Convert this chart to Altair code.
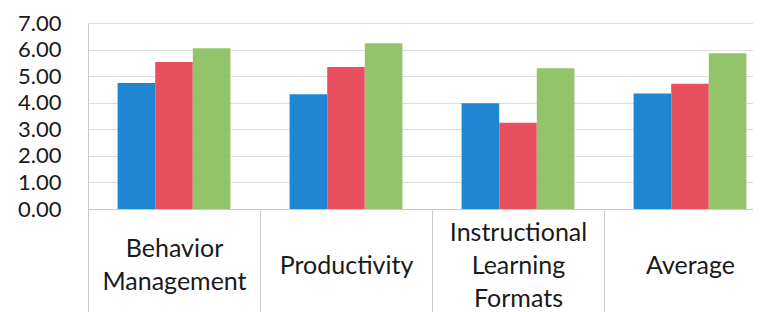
import altair as alt
import pandas as pd

categories = ["Behavior Management", "Productivity", "Instructional Learning Formats", "Average"]
series = ["Series 1", "Series 2", "Series 3"]
series1 = [4.74, 4.32, 3.98, 4.35]
series2 = [5.53, 5.34, 3.25, 4.71]
series3 = [6.05, 6.24, 5.30, 5.86]
colors = ["#1f86d4", "#e8505f", "#93c46a"]
y_ticks = [0, 1, 2, 3, 4, 5, 6, 7]

rows = []
for s, vals in zip(series, [series1, series2, series3]):
    for c, v in zip(categories, vals):
        rows.append({"category": c, "series": s, "value": v})
df = pd.DataFrame(rows)

# Multi-line labels, vertically centred on a common line: half-height blank
# (zero-width space) lines are used so 1-, 2- and 3-line labels share a centre.
BLANK = "\u200b"
max_lines = max(len(c.split(" ")) for c in categories)
parts = []
for c in categories:
    words = c.split(" ")
    lines = [BLANK] * (max_lines - len(words))
    for i, w in enumerate(words):
        if i > 0:
            lines.append(BLANK)
        lines.append(w)
    arr = "[" + ",".join("'" + l + "'" for l in lines) + "]"
    parts.append((c, arr))
expr = "datum.label"
for c, arr in reversed(parts):
    expr = f"datum.label == '{c}' ? {arr} : ({expr})"

chart = alt.Chart(df).mark_bar().encode(
    x=alt.X(
        "category:N",
        sort=categories,
        scale=alt.Scale(range=[0, 688], paddingInner=0, paddingOuter=0),
        axis=alt.Axis(
            title=None, labelAngle=0, labelExpr=expr,
            labelFont="Lato", labelFontSize=25, labelLineHeight=16.5, labelColor="#1a1a1a",
            labelBaseline="middle", labelOverlap=False, ticks=True, tickBand="extent",
            tickSize=110, tickColor="#c8c8c8", labelPadding=-87,
            domainColor="#c8c8c8", grid=False,
        ),
    ),
    xOffset=alt.XOffset("series:N", sort=series, scale=alt.Scale(paddingInner=0, paddingOuter=0.787)),
    y=alt.Y(
        "value:Q",
        scale=alt.Scale(domain=[0, 7], nice=False),
        axis=alt.Axis(
            title=None, values=y_ticks, format=".2f", labelFont="Lato", labelFontSize=22,
            labelColor="#1a1a1a", ticks=False, labelPadding=27, domainColor="#c8c8c8",
            gridColor="#dcdcdc",
        ),
    ),
    color=alt.Color("series:N", sort=series, scale=alt.Scale(domain=series, range=colors), legend=None),
).properties(
    width=665, height=186,
    autosize=alt.AutoSizeParams(type="none"),
    padding={"left": 80, "top": 15, "right": 0, "bottom": 103},
).configure_view(stroke=None)

chart.save("out.html", embed_options={"renderer": "svg", "actions": False})
